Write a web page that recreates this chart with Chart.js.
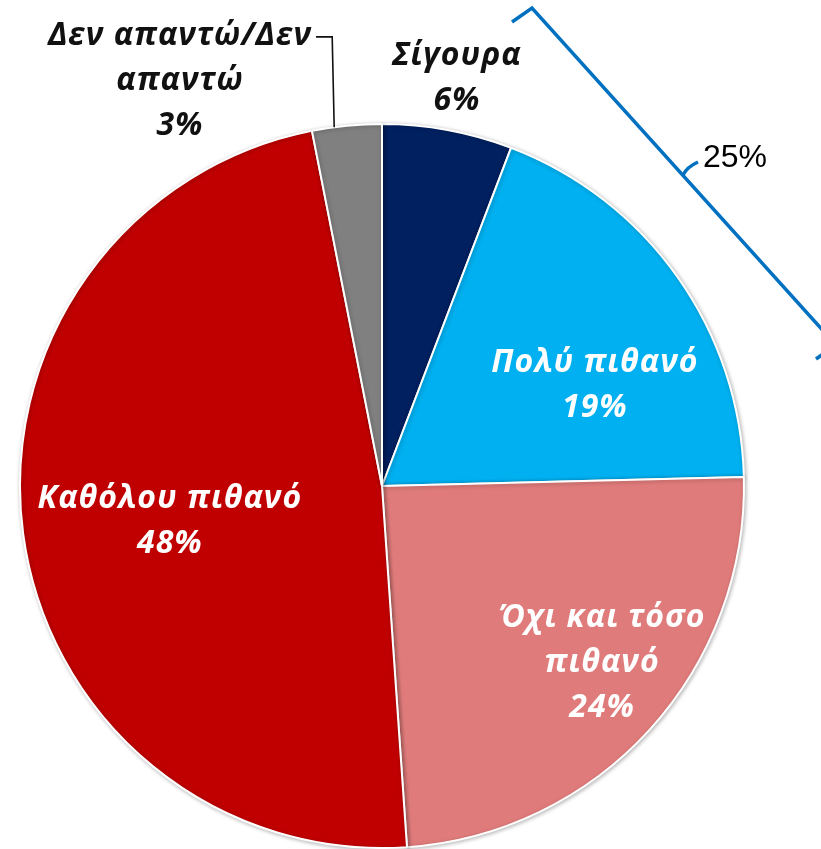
<!DOCTYPE html>
<html>
<head>
<meta charset="utf-8">
<script src="https://cdn.jsdelivr.net/npm/chart.js@4"></script>
<style>
html,body{margin:0;padding:0;background:#fff;}
#wrap{width:821px;height:849px;position:relative;}
</style>
</head>
<body>
<div id="wrap"><canvas id="c" width="821" height="849"></canvas></div>
<script>
const categories = ['Σίγουρα', 'Πολύ πιθανό', 'Όχι και τόσο πιθανό', 'Καθόλου πιθανό', 'Δεν απαντώ/Δεν απαντώ'];
const values = [5.8, 18.8, 24.3, 48.0, 3.1];
const valueLabels = ['6%', '19%', '24%', '48%', '3%'];
const labelLines = [
  ['Σίγουρα', '6%'],
  ['Πολύ πιθανό', '19%'],
  ['Όχι και τόσο', 'πιθανό', '24%'],
  ['Καθόλου πιθανό', '48%'],
  ['Δεν απαντώ/Δεν', 'απαντώ', '3%']
];
const bracketLabel = '25%';
const colors = ['#002060', '#00B0F0', '#E07B7B', '#C00000', '#808080'];
const labelColors = ['#111111', '#ffffff', '#ffffff', '#ffffff', '#111111'];
// label block centres, in units of the pie radius, relative to pie centre
const labelOffsets = [[0.207, -1.127], [0.588, -0.279], [0.608, 0.489], [-0.586, 0.097], [-0.558, -1.119]];

const labelFont = 'italic bold 32px "Open Sans", Lato, sans-serif';
const lineGap = 45;

const labelPlugin = {
  id: 'labels',
  beforeDatasetsDraw(chart) {
    const ctx = chart.ctx;
    ctx.save();
    ctx.shadowColor = 'rgba(0,0,0,0.28)';
    ctx.shadowBlur = 4;
    ctx.shadowOffsetX = 1;
    ctx.shadowOffsetY = 1;
  },
  afterDatasetsDraw(chart) {
    chart.ctx.restore();
  },
  afterDraw(chart) {
    const ctx = chart.ctx;
    const meta = chart.getDatasetMeta(0);
    const a0 = meta.data[0];
    const cx = a0.x, cy = a0.y, r = a0.outerRadius;
    ctx.save();
    ctx.font = labelFont;
    try { ctx.letterSpacing = '1px'; } catch (e) {}
    ctx.textAlign = 'center';
    ctx.textBaseline = 'middle';
    labelLines.forEach((lines, i) => {
      const bx = cx + labelOffsets[i][0] * r;
      const by = cy + labelOffsets[i][1] * r;
      ctx.fillStyle = labelColors[i];
      const y0 = by - (lines.length - 1) * lineGap / 2;
      lines.forEach((t, k) => ctx.fillText(t, bx, y0 + k * lineGap));
      if (i === 4) {
        // leader line from first line's right edge to the grey slice
        const w = ctx.measureText(lines[0]).width;
        const sx = bx + w / 2 + 4;
        const sy = y0 + 1;
        const arc = meta.data[4];
        const ang = arc.startAngle + (arc.endAngle - arc.startAngle) * 0.32;
        const ex = cx + Math.cos(ang) * arc.outerRadius;
        const ey = cy + Math.sin(ang) * arc.outerRadius;
        ctx.strokeStyle = '#111';
        ctx.lineWidth = 1.6;
        ctx.beginPath();
        ctx.moveTo(sx, sy);
        ctx.lineTo(ex - 2, sy);
        ctx.lineTo(ex, ey);
        ctx.stroke();
      }
    });
    try { ctx.letterSpacing = '0px'; } catch (e) {}
    // bracket for Σίγουρα + Πολύ πιθανό
    const pts = [[130, -464], [150, -478], [301, -311], [454, -141], [434, -127]];
    ctx.strokeStyle = '#0070C0';
    ctx.lineWidth = 3.5;
    ctx.lineJoin = 'miter';
    ctx.beginPath();
    ctx.moveTo(cx + pts[0][0], cy + pts[0][1]);
    ctx.lineTo(cx + pts[1][0], cy + pts[1][1]);
    ctx.lineTo(cx + pts[3][0], cy + pts[3][1]);
    ctx.lineTo(cx + pts[4][0], cy + pts[4][1]);
    ctx.stroke();
    ctx.beginPath();
    ctx.moveTo(cx + pts[2][0], cy + pts[2][1]);
    ctx.quadraticCurveTo(cx + pts[2][0] + 4, cy + pts[2][1] - 8, cx + pts[2][0] + 15, cy + pts[2][1] - 13);
    ctx.stroke();
    ctx.fillStyle = '#000';
    ctx.font = '32px "Liberation Sans", Arial, sans-serif';
    ctx.textAlign = 'left';
    ctx.fillText(bracketLabel, cx + 321, cy - 328);
    ctx.restore();
  }
};

new Chart(document.getElementById('c'), {
  type: 'pie',
  data: {
    labels: categories,
    datasets: [{
      data: values,
      backgroundColor: colors,
      borderColor: '#ffffff',
      borderWidth: 2
    }]
  },
  options: {
    responsive: false,
    animation: false,
    layout: { padding: { left: 19, right: 76, top: 123, bottom: 0 } },
    plugins: { legend: { display: false }, tooltip: { enabled: false } }
  },
  plugins: [labelPlugin]
});
</script>
</body>
</html>
